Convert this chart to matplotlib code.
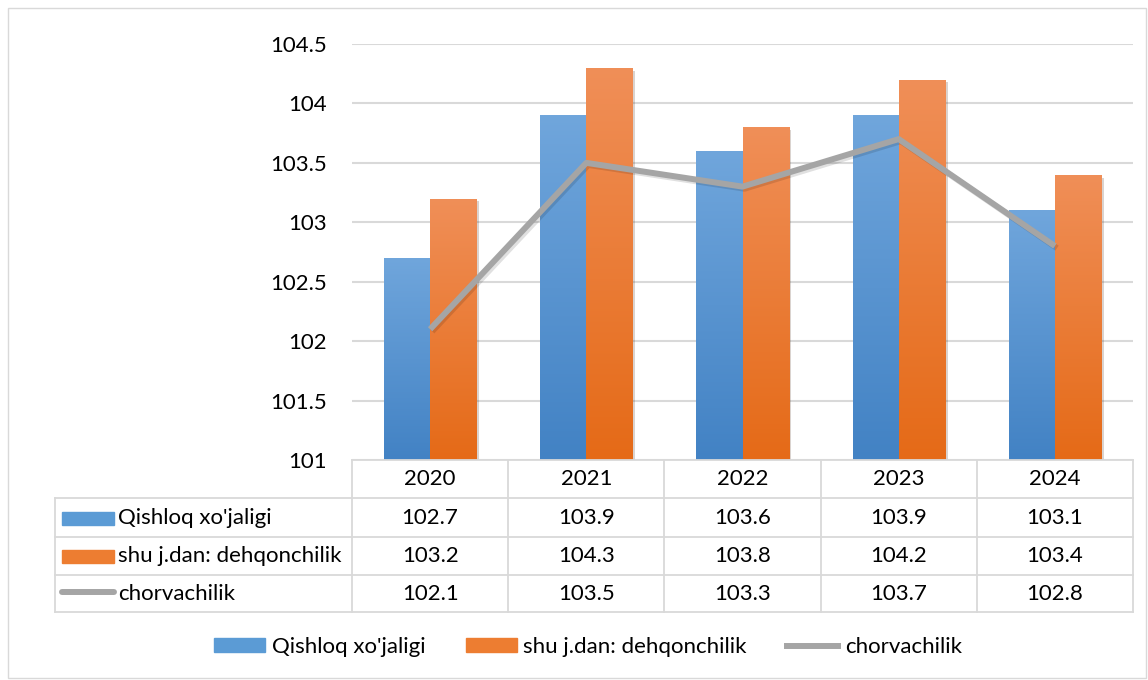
import matplotlib.pyplot as plt
import matplotlib.patches as mpatches
import matplotlib.patheffects as pe
from matplotlib.lines import Line2D
from matplotlib.colors import LinearSegmentedColormap
import numpy as np

plt.rcParams['font.family'] = ['Lato', 'DejaVu Sans']

years = ['2020', '2021', '2022', '2023', '2024']
qishloq = [102.7, 103.9, 103.6, 103.9, 103.1]
dehqon = [103.2, 104.3, 103.8, 104.2, 103.4]
chorva = [102.1, 103.5, 103.3, 103.7, 102.8]
names = ["Qishloq xo'jaligi", "shu j.dan: dehqonchilik", "chorvachilik"]
yticks = [101, 101.5, 102, 102.5, 103, 103.5, 104, 104.5]
ytick_labels = ['101', '101.5', '102', '102.5', '103', '103.5', '104', '104.5']

FS = 16
W, H = 1148, 680
fig = plt.figure(figsize=(W / 100, H / 100), dpi=100)

def fx(px):
    return px / W

def fy(py):
    return 1 - py / H

# outer chart border
fig.patches.append(mpatches.Rectangle((fx(8), fy(678)), fx(1138), (670) / H,
                                      transform=fig.transFigure, fill=False,
                                      edgecolor='#D9D9D9', linewidth=1))

ax_l, ax_r, ax_t, ax_b = 352, 1133, 44, 460
ax = fig.add_axes([fx(ax_l), fy(ax_b), fx(ax_r - ax_l), (ax_b - ax_t) / H])

blue_cm = LinearSegmentedColormap.from_list('b', ['#4282C4', '#70A6DC'])
orange_cm = LinearSegmentedColormap.from_list('o', ['#E56A17', '#F08F58'])
grad = np.linspace(0, 1, 256).reshape(-1, 1)

x = np.arange(len(years))
bw = 0.295
shadow = [pe.SimplePatchShadow(offset=(2, -2), alpha=0.2, rho=0.3), pe.Normal()]
for vals, off, cm in [(qishloq, -bw / 2, blue_cm), (dehqon, bw / 2, orange_cm)]:
    bars = ax.bar(x + off, np.array(vals) - 101, bw, bottom=101, color=cm(0.5),
                  zorder=2, path_effects=shadow)
    for b in bars:
        im = ax.imshow(grad, cmap=cm, aspect='auto', origin='lower', zorder=2.1,
                       extent=[b.get_x(), b.get_x() + b.get_width(), 101, b.get_y() + b.get_height()])
        im.set_clip_path(b)

ax.plot(x, chorva, color='#A5A5A5', linewidth=4.3, zorder=3, solid_capstyle='butt',
        path_effects=[pe.SimpleLineShadow(offset=(1.5, -1.5), alpha=0.12, shadow_color='k'),
                      pe.Normal()])

ax.set_xlim(-0.5, len(years) - 0.5)
ax.set_ylim(101, 104.5)
ax.set_yticks(yticks)
ax.set_yticklabels(ytick_labels, fontsize=FS)
ax.set_xticks([])
ax.yaxis.grid(True, color='#D9D9D9', linewidth=1.5)
ax.set_axisbelow(True)
ax.tick_params(axis='y', length=0, pad=18)
for s in ax.spines.values():
    s.set_visible(False)

# data table
tc = '#D9D9D9'
row_y = [460, 498, 537, 575, 612]
tab_l = 55
col_x = [ax_l + (ax_r - ax_l) * i / len(years) for i in range(len(years) + 1)]

def hline(y, x0, x1):
    fig.add_artist(Line2D([fx(x0), fx(x1)], [fy(y), fy(y)], color=tc, linewidth=1.3))

def vline(xp, y0, y1):
    fig.add_artist(Line2D([fx(xp), fx(xp)], [fy(y0), fy(y1)], color=tc, linewidth=1.3))

hline(row_y[0], ax_l, ax_r)
for y in row_y[1:]:
    hline(y, tab_l, ax_r)
for xp in col_x:
    vline(xp, row_y[0], row_y[-1])
vline(tab_l, row_y[1], row_y[-1])

for i, yr in enumerate(years):
    cx = (col_x[i] + col_x[i + 1]) / 2
    fig.text(fx(cx), fy((row_y[0] + row_y[1]) / 2), yr, ha='center', va='center', fontsize=FS)
    for r, vals in enumerate([qishloq, dehqon, chorva]):
        cy = (row_y[r + 1] + row_y[r + 2]) / 2
        fig.text(fx(cx), fy(cy), f'{vals[i]:.1f}', ha='center', va='center', fontsize=FS)

key_colors = ['#5B9BD5', '#ED7D31']
for r, name in enumerate(names):
    cy = (row_y[r + 1] + row_y[r + 2]) / 2
    if r < 2:
        fig.patches.append(mpatches.Rectangle((fx(62), fy(cy + 7)), fx(52), 13 / H,
                                              transform=fig.transFigure,
                                              color=key_colors[r]))
    else:
        fig.add_artist(Line2D([fx(62), fx(114)], [fy(cy - 2), fy(cy - 2)],
                              color='#A5A5A5', linewidth=4.3, solid_capstyle='round'))
    fig.text(fx(118), fy(cy), name, ha='left', va='center', fontsize=FS)

# legend
handles = [mpatches.Patch(color=key_colors[0]), mpatches.Patch(color=key_colors[1]),
           Line2D([], [], color='#A5A5A5', linewidth=4.3)]
fig.legend(handles, names, loc='center', bbox_to_anchor=(fx(588), fy(647)), ncol=3,
           frameon=False, fontsize=FS, handlelength=2.3, handleheight=0.6,
           handletextpad=0.3, columnspacing=1.8)

fig.savefig('out.png', dpi=100)
